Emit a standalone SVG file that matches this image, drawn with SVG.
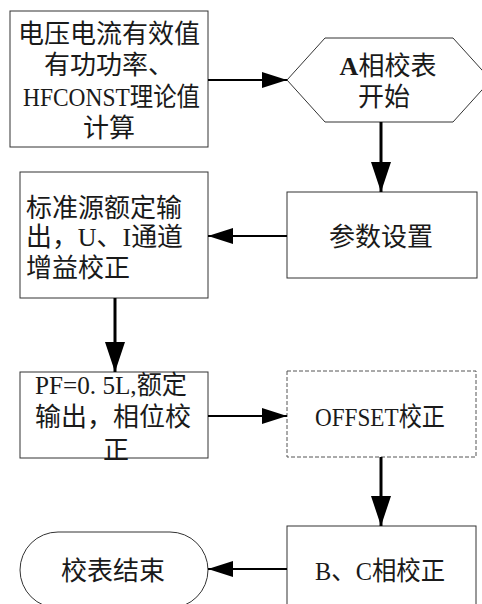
<svg xmlns="http://www.w3.org/2000/svg" width="482" height="604" viewBox="0 0 482 604">
<style>
.box{fill:#fff;stroke:#333;stroke-width:1}
.dash{fill:#fff;stroke:#555;stroke-width:1;stroke-dasharray:4 2}
.t{font-family:"Liberation Serif","Noto Sans CJK SC",serif;font-size:26px;fill:#1a1a1a}
.c{text-anchor:middle}
.v{fill:none;stroke:#000;stroke-width:3}
.h{fill:none;stroke:#000;stroke-width:2}
</style>
<defs>
<marker id="av" viewBox="0 0 30 20" markerWidth="30" markerHeight="20" refX="30" refY="10" orient="auto" markerUnits="userSpaceOnUse"><path d="M0,0 L30,10 L0,20 z" fill="#000"/></marker>
<marker id="ah" viewBox="0 0 25 16" markerWidth="25" markerHeight="16" refX="25" refY="8" orient="auto" markerUnits="userSpaceOnUse"><path d="M0,0 L25,8 L0,16 z" fill="#000"/></marker>
</defs>
<rect width="482" height="604" fill="#fff"/>
<g id="n1">
<rect class="box" x="10" y="11" width="198" height="136"/>
<text class="t c" x="109" y="43">电压电流有效值</text>
<text class="t c" x="109" y="74">有功功率、</text>
<text class="t" x="23" y="106" textLength="177" lengthAdjust="spacingAndGlyphs">HFCONST理论值</text>
<text class="t c" x="109" y="137">计算</text>
</g>
<g id="n2">
<polygon class="box" points="287,80 325,38 453,38 491,80 453,122 325,122"/>
<text class="t c" x="388" y="75"><tspan font-weight="bold">A</tspan>相校表</text>
<text class="t c" x="384" y="106">开始</text>
</g>
<g id="n3">
<rect class="box" x="287" y="192" width="190" height="86"/>
<text class="t c" x="381" y="246">参数设置</text>
</g>
<g id="n4">
<rect class="box" x="20" y="172" width="188" height="126"/>
<text class="t" x="26" y="217">标准源额定输</text>
<text class="t" x="26" y="246" textLength="157" lengthAdjust="spacingAndGlyphs">出，U、I通道</text>
<text class="t" x="26" y="277">增益校正</text>
</g>
<g id="n5">
<rect class="box" x="20" y="372" width="188" height="86"/>
<text class="t" x="35" y="394" textLength="152" lengthAdjust="spacingAndGlyphs">PF=0. 5L,额定</text>
<text class="t c" x="113" y="426">输出，相位校</text>
<text class="t c" x="116" y="459">正</text>
</g>
<g id="n6">
<rect class="dash" x="287" y="371" width="189" height="86"/>
<text class="t" x="315" y="426" textLength="130" lengthAdjust="spacingAndGlyphs">OFFSET校正</text>
</g>
<g id="n7">
<rect class="box" x="287" y="526" width="189" height="90"/>
<text class="t" x="315" y="580" textLength="130" lengthAdjust="spacingAndGlyphs">B、C相校正</text>
</g>
<g id="n8">
<rect class="box" x="20" y="532" width="188" height="76" rx="38" ry="38"/>
<text class="t c" x="113" y="580">校表结束</text>
</g>
<g id="connectors">
<path class="h" d="M208,80 L287,80" marker-end="url(#ah)"/>
<path class="v" d="M381,122 L381,192" marker-end="url(#av)"/>
<path class="h" d="M287,236 L208,236" marker-end="url(#ah)"/>
<path class="v" d="M115,298 L115,372" marker-end="url(#av)"/>
<path class="h" d="M208,416 L287,416" marker-end="url(#ah)"/>
<path class="v" d="M381,457 L381,526" marker-end="url(#av)"/>
<path class="h" d="M287,569 L208,569" marker-end="url(#ah)"/>
</g>
</svg>
